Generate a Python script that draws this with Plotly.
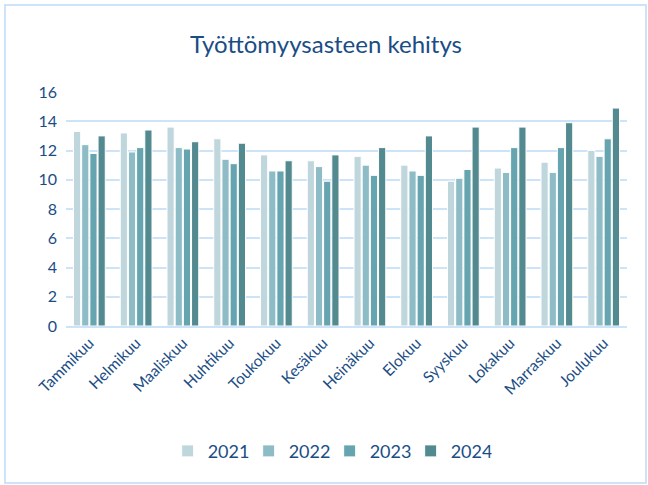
import plotly.graph_objects as go

months = ["Tammikuu", "Helmikuu", "Maaliskuu", "Huhtikuu", "Toukokuu", "Kesäkuu",
          "Heinäkuu", "Elokuu", "Syyskuu", "Lokakuu", "Marraskuu", "Joulukuu"]
v2021 = [13.3, 13.2, 13.6, 12.8, 11.7, 11.3, 11.6, 11.0, 9.9, 10.8, 11.2, 12.0]
v2022 = [12.4, 11.9, 12.2, 11.4, 10.6, 10.9, 11.0, 10.6, 10.1, 10.5, 10.5, 11.6]
v2023 = [11.8, 12.2, 12.1, 11.1, 10.6, 9.9, 10.3, 10.3, 10.7, 12.2, 12.2, 12.8]
v2024 = [13.0, 13.4, 12.6, 12.5, 11.3, 11.7, 12.2, 13.0, 13.6, 13.6, 13.9, 14.9]
years = ["2021", "2022", "2023", "2024"]
colors = ["#BFD7DC", "#8EBCC6", "#66A5AF", "#538A90"]
series = [v2021, v2022, v2023, v2024]
yticks = [0, 2, 4, 6, 8, 10, 12, 14, 16]

txt = "#1A4D85"
font = "Lato, 'Open Sans', sans-serif"

fig = go.Figure()
for name, vals, c in zip(years, series, colors):
    fig.add_trace(go.Bar(x=months, y=vals, name=name, marker=dict(color=c, line=dict(color="white", width=1))))

fig.update_layout(
    width=648, height=485,
    margin=dict(l=66, r=21, t=92, b=159),
    paper_bgcolor="white", plot_bgcolor="white",
    barmode="group", bargap=0.3, bargroupgap=0.12,
    title=dict(text="Työttömyysasteen kehitys", x=0.503, xanchor="center", y=1 - 45 / 485, yanchor="middle",
               font=dict(family=font, size=24, color=txt)),
    font=dict(family=font, color=txt),
    legend=dict(orientation="h", x=0.47, xanchor="center", y=-0.535, yanchor="middle",
                font=dict(size=18, color=txt), itemwidth=30, entrywidth=36, traceorder="normal"),
    yaxis=dict(range=[0, 16], tickvals=yticks, showgrid=True, gridcolor="#CDE3F8", gridwidth=2,
               zeroline=False, showline=False, tickfont=dict(size=16, color=txt), ticks="",
               ticklabelstandoff=8),
    xaxis=dict(tickangle=-45, tickfont=dict(size=15.5, color=txt), showline=True, linecolor="#CDE3F8",
               linewidth=2, ticks=""),
    shapes=[dict(type="rect", xref="paper", yref="paper", x0=(5 - 66) / 561, x1=(646 - 66) / 561,
                 y0=(326 - 483) / 234, y1=(326 - 5) / 234, line=dict(color="#CDE3F8", width=2),
                 fillcolor="rgba(0,0,0,0)", layer="below")],
)

fig.write_html("out.html")
